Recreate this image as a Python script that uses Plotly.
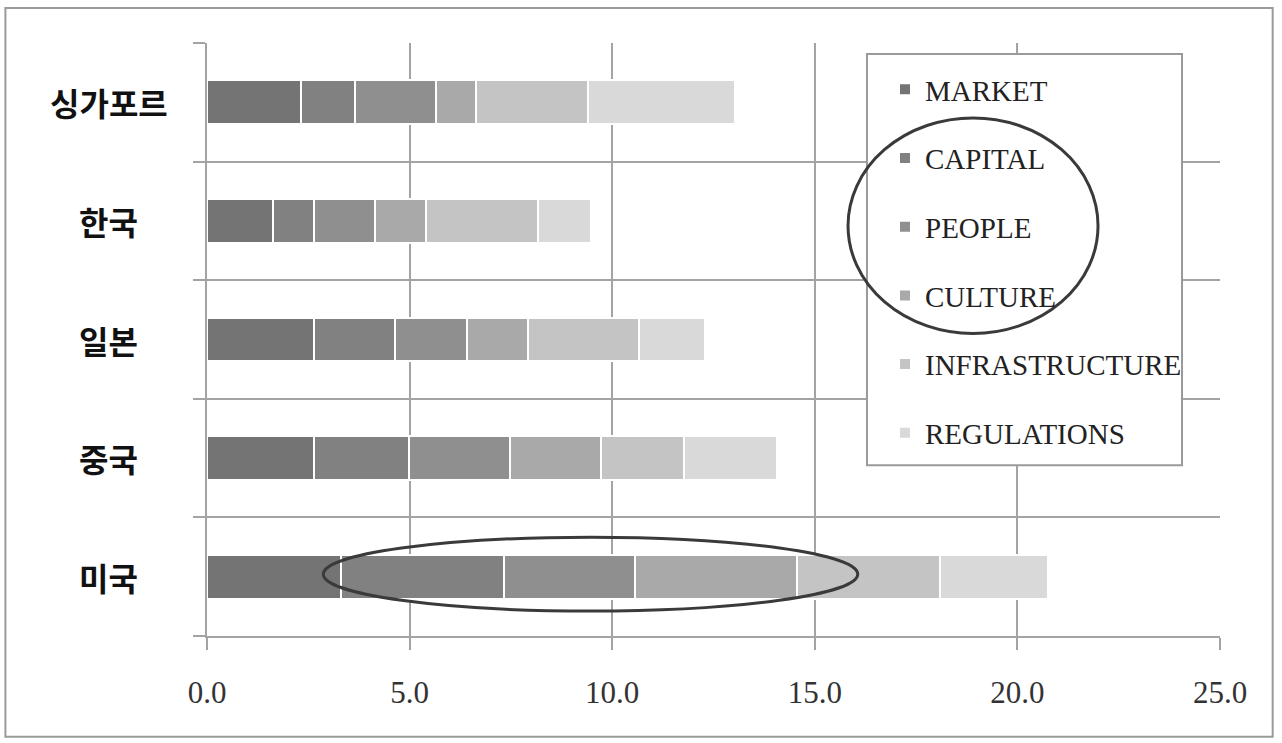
import plotly.graph_objects as go

# Countries, bottom to top on the category axis
countries = ["미국", "중국", "일본", "한국", "싱가포르"]

# Component scores per country (same order as countries)
market = [3.31, 2.64, 2.64, 1.64, 2.31]
capital = [4.01, 2.35, 2.01, 1.01, 1.35]
people = [3.24, 2.49, 1.76, 1.49, 2.00]
culture = [4.01, 2.25, 1.50, 1.26, 0.99]
infrastructure = [3.51, 2.03, 2.76, 2.76, 2.76]
regulations = [2.67, 2.31, 1.61, 1.31, 3.63]

series = [
    ("MARKET", market, "#747474"),
    ("CAPITAL", capital, "#818181"),
    ("PEOPLE", people, "#8f8f8f"),
    ("CULTURE", culture, "#a9a9a9"),
    ("INFRASTRUCTURE", infrastructure, "#c4c4c4"),
    ("REGULATIONS", regulations, "#d9d9d9"),
]

x_ticks = [0, 5, 10, 15, 20, 25]

GRID = "#a3a3a3"
SERIF = "Liberation Serif"

fig = go.Figure()
for i, (name, vals, color) in enumerate(series):
    fig.add_trace(go.Bar(
        y=countries, x=vals, name=name, orientation="h",
        marker=dict(color=color, line=dict(color="white", width=2)),
        legendgroup=f"g{i}",
    ))

# Country names as bold labels to the left of the plot
annotations = [
    dict(x=-0.097, xref="paper", y=c, yref="y", text=f"<b>{c}</b>",
         showarrow=False, xanchor="center", yanchor="middle",
         font=dict(family="Noto Sans CJK KR", size=32, color="#111111"))
    for c in countries
]

shapes = [
    # outer frame
    dict(type="rect", xref="paper", yref="paper", x0=-0.199, x1=1.052,
         y0=-0.170, y1=1.059, line=dict(color="#9a9a9a", width=2),
         fillcolor="rgba(0,0,0,0)", layer="above"),
    # legend box
    dict(type="rect", xref="paper", yref="paper", x0=0.6515, x1=0.9625,
         y0=(636 - 465) / 594, y1=(636 - 53) / 594,
         line=dict(color="#9a9a9a", width=2), fillcolor="white", layer="above"),
    # ellipse around CAPITAL..CULTURE legend entries
    dict(type="circle", xref="paper", yref="paper", x0=0.6328, x1=0.8796,
         y0=0.5101, y1=0.8737, line=dict(color="#3a3a3a", width=3),
         layer="above"),
    # ellipse across the middle of the 미국 bar
    dict(type="circle", xref="x", yref="y", x0=2.87, x1=16.06,
         y0=-0.29, y1=0.333, line=dict(color="#3a3a3a", width=3),
         layer="above"),
]

fig.update_layout(
    barmode="stack",
    bargap=0.63,
    width=1282, height=743,
    margin=dict(l=207, r=62, t=43, b=107),
    paper_bgcolor="white", plot_bgcolor="white",
    showlegend=True,
    legend=dict(
        x=0.6693, y=(636 - 63) / 594, xanchor="left", yanchor="top",
        bgcolor="rgba(0,0,0,0)", borderwidth=0,
        font=dict(family=SERIF, size=29, color="#222222"),
        tracegroupgap=28, traceorder="grouped",
    ),
    xaxis=dict(
        range=[0, 25], tickvals=x_ticks, tickformat=".1f",
        showgrid=True, gridcolor=GRID, gridwidth=2,
        ticks="outside", ticklen=12, tickcolor=GRID, tickwidth=2,
        showline=True, linecolor=GRID, linewidth=2,
        ticklabelstandoff=16,
        tickfont=dict(family=SERIF, size=31, color="#333333"),
        zeroline=False,
    ),
    yaxis=dict(
        type="category", categoryorder="array", categoryarray=countries,
        tickson="boundaries", showgrid=True, gridcolor=GRID, gridwidth=2,
        ticks="outside", ticklen=12, tickcolor=GRID, tickwidth=2,
        showline=True, linecolor=GRID, linewidth=2,
        showticklabels=False,
    ),
    annotations=annotations,
    shapes=shapes,
)

fig.write_html("out.html")
